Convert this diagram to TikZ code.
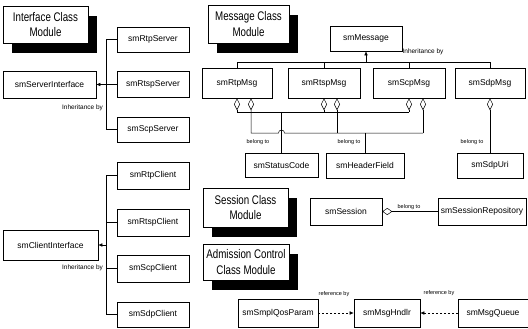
\documentclass[tikz,border=0pt]{standalone}
\usepackage{fontspec}
\setmainfont{Liberation Sans}
\newfontfamily\titlefont{Liberation Sans}[FakeStretch=0.78]
\usetikzlibrary{arrows.meta,shadows,calc}

\begin{document}
\begin{tikzpicture}[x=1pt,y=-1pt,
  box/.style={draw, line width=0.6pt, fill=white, inner sep=0pt,
              font=\fontsize{8.5}{10}\selectfont},
  titlebox/.style={draw, line width=0.6pt, fill=white, inner sep=0pt, align=center,
              font=\titlefont\fontsize{12.5}{15.5}\selectfont,
              drop shadow={shadow xshift=9pt,shadow yshift=-10pt,opacity=1,fill=black}},
  wire/.style={line width=0.5pt},
  inh/.style={wire, -{Latex[length=4pt,width=3.5pt]}},
  agg/.style={wire, {Diamond[open,length=12pt,width=6pt]}-},
  refarrow/.style={wire, dash pattern=on 2pt off 2pt, -{Latex[length=4pt,width=3.5pt]}},
  lbl/.style={font=\fontsize{5.5}{6}\selectfont, inner sep=0pt},
  lblbig/.style={font=\fontsize{6.5}{7}\selectfont, inner sep=0pt},
]
\useasboundingbox (0,0) rectangle (528,329);

% ---- module titles
\node[titlebox, minimum width=85pt, minimum height=37pt] (tInterface) at (45.5,24.5) {Interface Class\\Module};
\node[titlebox, minimum width=81pt, minimum height=38pt] (tMessage) at (248.5,24) {Message Class\\Module};
\node[titlebox, minimum width=85pt, minimum height=39pt] (tSession) at (245.5,207.5) {Session Class\\Module};
\node[titlebox, minimum width=86pt, minimum height=36pt] (tAdmission) at (246,262) {Admission Control\\Class Module};

% ---- interface classes: servers
\node[box, minimum width=93pt, minimum height=27pt] (smServerInterface) at (49.5,84.5) {smServerInterface};
\node[box, minimum width=72pt, minimum height=25pt] (smRtpServer) at (153,39.5) {smRtpServer};
\node[box, minimum width=72pt, minimum height=26pt] (smRtspServer) at (153,84.5) {smRtspServer};
\node[box, minimum width=72pt, minimum height=25pt] (smScpServer) at (153,129.5) {smScpServer};
\coordinate (sbus) at (106,0);
\draw[wire] (smRtpServer.west) -- (sbus |- smRtpServer.west) -- (sbus |- smScpServer.west) -- (smScpServer.west);
\draw[inh] (smRtspServer.west) -- (smServerInterface.east);
\node[lblbig] (inhServer) at (82.5,108) {Inheritance by};

% ---- interface classes: clients
\node[box, minimum width=95pt, minimum height=30pt] (smClientInterface) at (50.5,245) {smClientInterface};
\node[box, minimum width=72pt, minimum height=27pt] (smRtpClient) at (153,175.5) {smRtpClient};
\node[box, minimum width=72pt, minimum height=27pt] (smRtspClient) at (153,222.5) {smRtspClient};
\node[box, minimum width=72pt, minimum height=27pt] (smScpClient) at (153,268.5) {smScpClient};
\node[box, minimum width=72pt, minimum height=25pt] (smSdpClient) at (153,314.5) {smSdpClient};
\coordinate (cbus) at (106,0);
\draw[wire] (smRtpClient.west) -- (cbus |- smRtpClient.west) -- (cbus |- smSdpClient.west) -- (smSdpClient.west);
\draw[wire] (smRtspClient.west) -- (cbus |- smRtspClient.west);
\draw[wire] (smScpClient.west) -- (cbus |- smScpClient.west);
\draw[inh] (cbus |- smClientInterface.east) -- (smClientInterface.east);
\node[lblbig] (inhClient) at (82.5,268) {Inheritance by};

% ---- message classes
\node[box, minimum width=72pt, minimum height=25pt] (smMessage) at (366,38.5) {smMessage};
\node[box, minimum width=70pt, minimum height=30pt] (smRtpMsg) at (237,83) {smRtpMsg};
\node[box, minimum width=72pt, minimum height=30pt] (smRtspMsg) at (324,83) {smRtspMsg};
\node[box, minimum width=72pt, minimum height=30pt] (smScpMsg) at (409,83) {smScpMsg};
\node[box, minimum width=70pt, minimum height=30pt] (smSdpMsg) at (490,83) {smSdpMsg};
\coordinate (mbus) at (0,62);
\draw[wire] (smRtpMsg.north) -- (smRtpMsg.north |- mbus) -- (smSdpMsg.north |- mbus) -- (smSdpMsg.north);
\draw[wire] (smRtspMsg.north) -- (smRtspMsg.north |- mbus);
\draw[wire] (smScpMsg.north) -- (smScpMsg.north |- mbus);
\draw[inh] (smMessage.south |- mbus) -- (smMessage.south);
\node[lblbig] (inhMsg) at (423,52) {Inheritance by};

\node[box, minimum width=73pt, minimum height=24pt] (smStatusCode) at (281.5,165) {smStatusCode};
\node[box, minimum width=78pt, minimum height=25pt] (smHeaderField) at (365,165.5) {smHeaderField};
\node[box, minimum width=66pt, minimum height=25pt] (smSdpUri) at (490,165.5) {smSdpUri};

% aggregation ends under the message boxes
\coordinate (aRtp) at ([xshift=14pt]smRtpMsg.south);
\coordinate (aRtsp) at ([xshift=13pt]smRtspMsg.south);
\coordinate (aScp) at ([xshift=14pt]smScpMsg.south);
\coordinate (busS) at (0,112);
\coordinate (busH) at (0,133);
% status code
\draw[agg] (smRtpMsg.south) -- (smRtpMsg.south |- busS) -- (smScpMsg.south |- busS);
\draw[agg] (smRtspMsg.south) -- (smRtspMsg.south |- busS);
\draw[agg] (smScpMsg.south) -- (smScpMsg.south |- busS);
\draw[wire] (smStatusCode.north |- busS) -- (smStatusCode.north);
% header field, hopping over the status code line
\coordinate (hopL) at ([xshift=-3pt]smStatusCode.north |- busH);
\draw[agg] (aRtp) -- (aRtp |- busH) -- (hopL) arc[start angle=180, end angle=0, radius=3pt] -- (aScp |- busH);
\draw[agg] (aRtsp) -- (aRtsp |- busH);
\draw[agg] (aScp) -- (aScp |- busH);
\draw[wire] (smHeaderField.north |- busH) -- (smHeaderField.north);
% sdp uri
\draw[agg] (smSdpMsg.south) -- (smSdpUri.north);

\node[lbl] (blStatus) at (258,142) {belong to};
\node[lbl] (blHeader) at (349,142) {belong to};
\node[lbl] (blSdp) at (472,142) {belong to};

% ---- session classes
\node[box, minimum width=72pt, minimum height=27pt] (smSession) at (346,211.5) {smSession};
\node[box, minimum width=88pt, minimum height=27pt] (smSessionRepository) at (482,211.5) {smSessionRepository};
\draw[wire, {Diamond[open,length=10pt,width=7pt]}-] (smSession.east) -- (smSessionRepository.west);
\node[lbl] (blSession) at (409,207) {belong to};

% ---- admission control classes
\node[box, minimum width=80pt, minimum height=28pt] (smSmplQosParam) at (278,313) {smSmplQosParam};
\node[box, minimum width=66pt, minimum height=28pt] (smMsgHndlr) at (387,313) {smMsgHndlr};
\node[box, minimum width=70pt, minimum height=28pt] (smMsgQueue) at (493,313) {smMsgQueue};
\draw[refarrow] (smSmplQosParam.east) -- (smMsgHndlr.west);
\draw[refarrow] (smMsgQueue.west) -- (smMsgHndlr.east);
\node[lbl] (refQos) at (334,294) {reference by};
\node[lbl] (refQueue) at (439,293) {reference by};
\end{tikzpicture}
\end{document}
